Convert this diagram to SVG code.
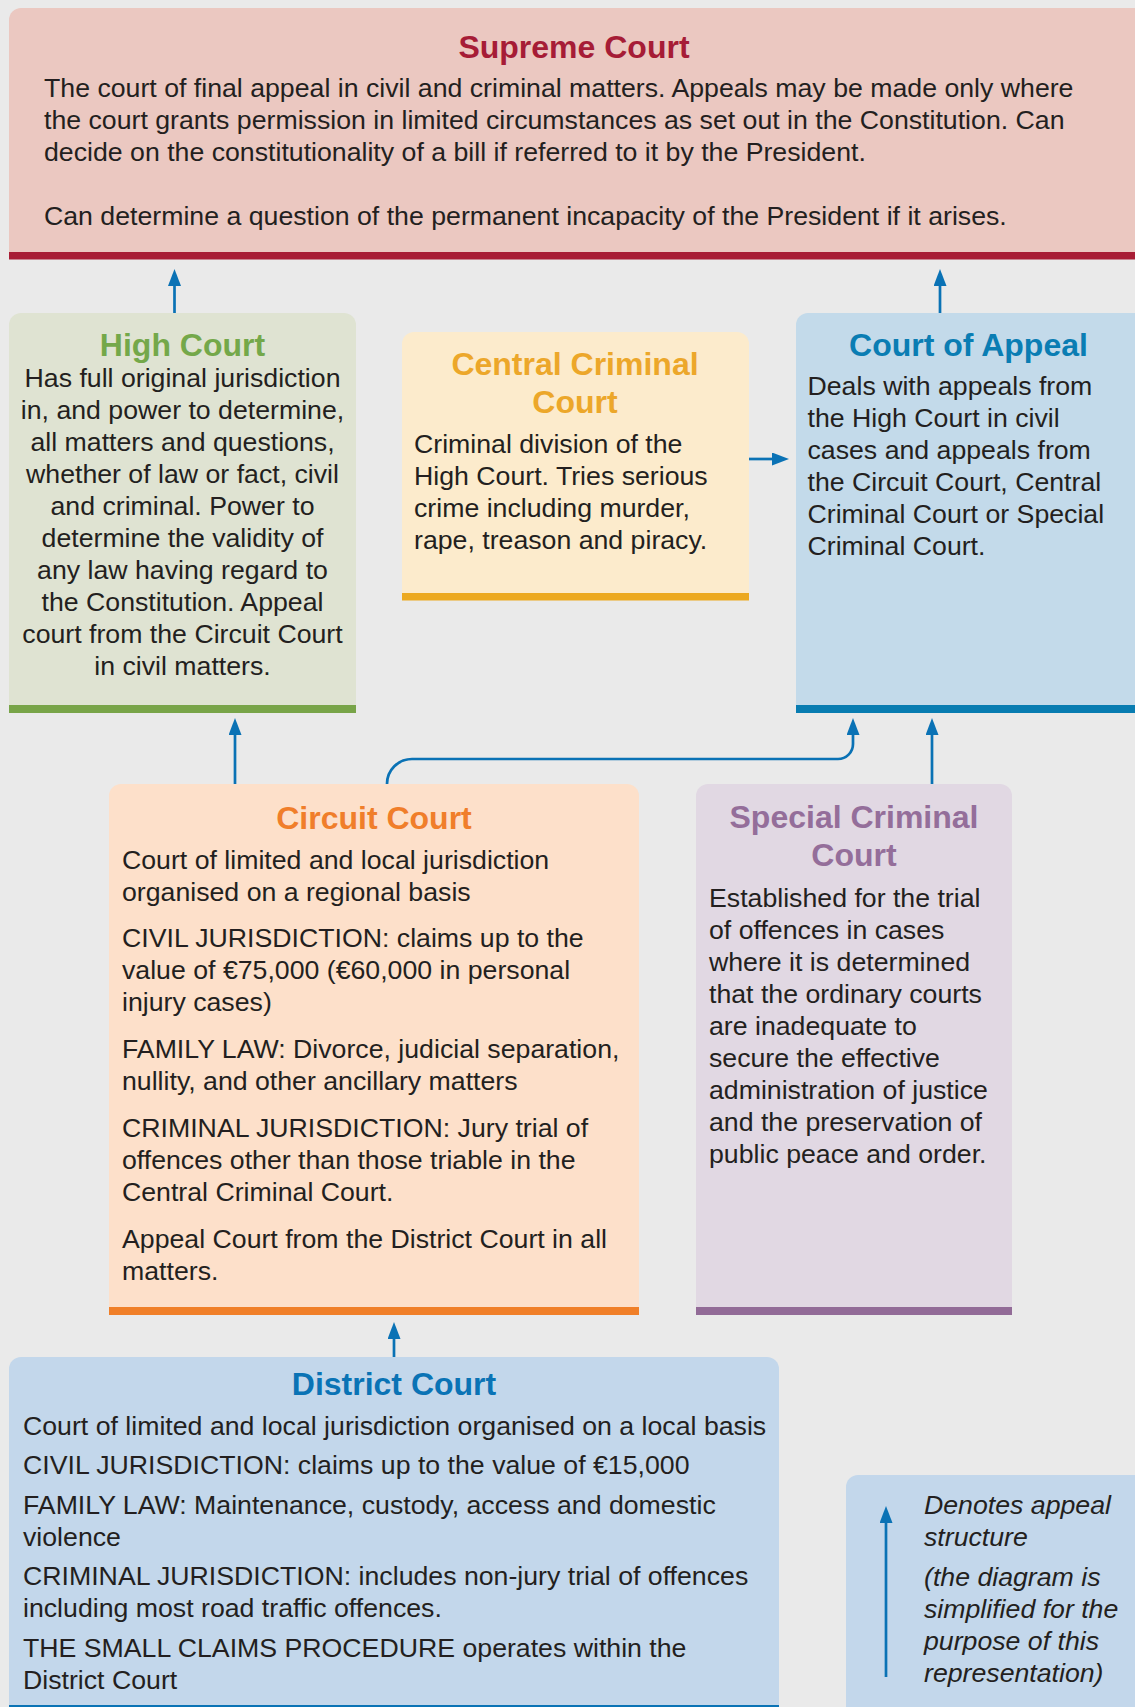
<svg xmlns="http://www.w3.org/2000/svg" width="1135" height="1707" viewBox="0 0 1135 1707">
<style>
  text { font-family: "Liberation Sans", Arial, sans-serif; }
  .title { font-weight: bold; font-size: 32px; text-anchor: middle; }
  .body { font-size: 26.7px; fill: #231F20; }
  .mid { text-anchor: middle; }
  .ital { font-style: italic; }
  .conn { stroke: #0A72B5; stroke-width: 2.7; fill: none; marker-end: url(#arr); }
</style>
<defs>
  <marker id="arr" viewBox="0 0 17 13" refX="7" refY="6.5" markerWidth="17" markerHeight="13" markerUnits="userSpaceOnUse" orient="auto">
    <path d="M0,0 L17,6.5 L0,13 Z" fill="#0A72B5"/>
  </marker>
</defs>
<rect x="0" y="0" width="1135" height="1707" fill="#EAEAEA"/>

<g id="supreme-court">
  <path d="M9,259 V20 A12,12 0 0 1 21,8 H1150 V259 Z" fill="#EBC8C1"/>
  <rect x="9" y="252" width="1141" height="7.5" fill="#A81D35"/>
  <text class="title" x="574" y="58" fill="#A61C36">Supreme Court</text>
  <text class="body" x="44" y="97">The court of final appeal in civil and criminal matters. Appeals may be made only where</text>
  <text class="body" x="44" y="129">the court grants permission in limited circumstances as set out in the Constitution. Can</text>
  <text class="body" x="44" y="161">decide on the constitutionality of a bill if referred to it by the President.</text>
  <text class="body" x="44" y="225">Can determine a question of the permanent incapacity of the President if it arises.</text>
</g>

<g id="high-court">
  <path d="M9,713 V325 A12,12 0 0 1 21,313 H344 A12,12 0 0 1 356,325 V713 Z" fill="#DFE3D2"/>
  <rect x="9" y="705" width="347" height="8" fill="#78A448"/>
  <text class="title" x="182.5" y="356" fill="#74A84A">High Court</text>
  <g class="body mid">
    <text x="182.5" y="387">Has full original jurisdiction</text>
    <text x="182.5" y="419">in, and power to determine,</text>
    <text x="182.5" y="451">all matters and questions,</text>
    <text x="182.5" y="483">whether of law or fact, civil</text>
    <text x="182.5" y="515">and criminal. Power to</text>
    <text x="182.5" y="547">determine the validity of</text>
    <text x="182.5" y="579">any law having regard to</text>
    <text x="182.5" y="611">the Constitution. Appeal</text>
    <text x="182.5" y="643">court from the Circuit Court</text>
    <text x="182.5" y="675">in civil matters.</text>
  </g>
</g>

<g id="central-criminal-court">
  <path d="M402,600 V344 A12,12 0 0 1 414,332 H737 A12,12 0 0 1 749,344 V600 Z" fill="#FCEBCC"/>
  <rect x="402" y="593" width="347" height="7.5" fill="#ECA920"/>
  <text class="title" x="575" y="375" fill="#ECA72A">Central Criminal</text>
  <text class="title" x="575" y="413" fill="#ECA72A">Court</text>
  <g class="body">
    <text x="414" y="453">Criminal division of the</text>
    <text x="414" y="485">High Court. Tries serious</text>
    <text x="414" y="517">crime including murder,</text>
    <text x="414" y="549">rape, treason and piracy.</text>
  </g>
</g>

<g id="court-of-appeal">
  <path d="M796,713 V325 A12,12 0 0 1 808,313 H1150 V713 Z" fill="#C3DAEA"/>
  <rect x="796" y="705" width="354" height="8" fill="#087CB1"/>
  <text class="title" x="968.5" y="356" fill="#0A7DB3">Court of Appeal</text>
  <g class="body">
    <text x="807.5" y="395">Deals with appeals from</text>
    <text x="807.5" y="427">the High Court in civil</text>
    <text x="807.5" y="459">cases and appeals from</text>
    <text x="807.5" y="491">the Circuit Court, Central</text>
    <text x="807.5" y="523">Criminal Court or Special</text>
    <text x="807.5" y="555">Criminal Court.</text>
  </g>
</g>

<g id="circuit-court">
  <path d="M109,1315 V796 A12,12 0 0 1 121,784 H627 A12,12 0 0 1 639,796 V1315 Z" fill="#FDE0CA"/>
  <rect x="109" y="1307" width="530" height="8" fill="#F07F28"/>
  <text class="title" x="374" y="829" fill="#F07E2A">Circuit Court</text>
  <g class="body">
    <text x="122" y="869">Court of limited and local jurisdiction</text>
    <text x="122" y="901">organised on a regional basis</text>
    <text x="122" y="947">CIVIL JURISDICTION: claims up to the</text>
    <text x="122" y="979">value of €75,000 (€60,000 in personal</text>
    <text x="122" y="1011">injury cases)</text>
    <text x="122" y="1058">FAMILY LAW: Divorce, judicial separation,</text>
    <text x="122" y="1090">nullity, and other ancillary matters</text>
    <text x="122" y="1137">CRIMINAL JURISDICTION: Jury trial of</text>
    <text x="122" y="1169">offences other than those triable in the</text>
    <text x="122" y="1201">Central Criminal Court.</text>
    <text x="122" y="1248">Appeal Court from the District Court in all</text>
    <text x="122" y="1280">matters.</text>
  </g>
</g>

<g id="special-criminal-court">
  <path d="M696,1315 V796 A12,12 0 0 1 708,784 H1000 A12,12 0 0 1 1012,796 V1315 Z" fill="#E1D8E3"/>
  <rect x="696" y="1307" width="316" height="8" fill="#926B97"/>
  <text class="title" x="854" y="828" fill="#946E9A">Special Criminal</text>
  <text class="title" x="854" y="866" fill="#946E9A">Court</text>
  <g class="body">
    <text x="709" y="907">Established for the trial</text>
    <text x="709" y="939">of offences in cases</text>
    <text x="709" y="971">where it is determined</text>
    <text x="709" y="1003">that the ordinary courts</text>
    <text x="709" y="1035">are inadequate to</text>
    <text x="709" y="1067">secure the effective</text>
    <text x="709" y="1099">administration of justice</text>
    <text x="709" y="1131">and the preservation of</text>
    <text x="709" y="1163">public peace and order.</text>
  </g>
</g>

<g id="district-court">
  <path d="M9,1715 V1369 A12,12 0 0 1 21,1357 H767 A12,12 0 0 1 779,1369 V1715 Z" fill="#C3D7EB"/>
  <rect x="9" y="1705" width="770" height="8" fill="#0A73B5"/>
  <text class="title" x="394" y="1395" fill="#0A73B5">District Court</text>
  <g class="body">
    <text x="23" y="1435">Court of limited and local jurisdiction organised on a local basis</text>
    <text x="23" y="1474">CIVIL JURISDICTION: claims up to the value of €15,000</text>
    <text x="23" y="1514">FAMILY LAW: Maintenance, custody, access and domestic</text>
    <text x="23" y="1546">violence</text>
    <text x="23" y="1585">CRIMINAL JURISDICTION: includes non-jury trial of offences</text>
    <text x="23" y="1617">including most road traffic offences.</text>
    <text x="23" y="1657">THE SMALL CLAIMS PROCEDURE operates within the</text>
    <text x="23" y="1689">District Court</text>
  </g>
</g>

<g id="legend">
  <path d="M846,1715 V1487 A12,12 0 0 1 858,1475 H1150 V1715 Z" fill="#C3D7EB"/>
  <path class="conn" d="M886,1677 V1516"/>
  <g class="body ital">
    <text x="924" y="1514">Denotes appeal</text>
    <text x="924" y="1546">structure</text>
    <text x="924" y="1586">(the diagram is</text>
    <text x="924" y="1618">simplified for the</text>
    <text x="924" y="1650">purpose of this</text>
    <text x="924" y="1682">representation)</text>
  </g>
</g>

<g id="connectors">
  <path class="conn" d="M174.5,313 V279"/>
  <path class="conn" d="M940,313 V279"/>
  <path class="conn" d="M749,459 H779"/>
  <path class="conn" d="M235,784 V728"/>
  <path class="conn" d="M387,784 A25,25 0 0 1 412,759 H838 A15,15 0 0 0 853,744 V728"/>
  <path class="conn" d="M932,784 V728"/>
  <path class="conn" d="M394,1357 V1332"/>
</g>
</svg>
